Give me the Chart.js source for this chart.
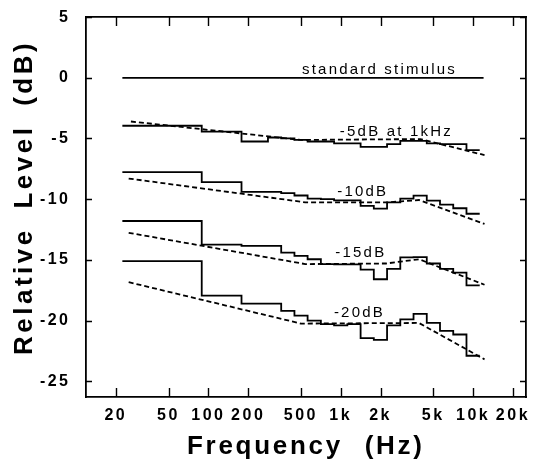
<!DOCTYPE html>
<html>
<head>
<meta charset="utf-8">
<script src="https://cdn.jsdelivr.net/npm/chart.js@4.4.1/dist/chart.umd.min.js"></script>
<style>
	html, body { margin: 0; padding: 0; background: #fff; }
	canvas { display: block; }
</style>
</head>
<body>
<canvas id="levelChart" width="534" height="459"></canvas>
<script>
	// Band edges (Hz) of the measured spectra
	const bandEdges  = [22.4, 89.1, 178, 355, 447, 562, 708, 891, 1122, 1413, 1778, 2239, 2818, 3548, 4467, 5623, 7079, 8913, 11220];
	const bandEdges5 = [22.4, 89.1, 178, 282, 355, 447, 562, 708, 891, 1122, 1413, 1778, 2239, 2818, 3548, 4467, 5623, 7079, 8913, 11220];

	// Band levels (dB), one value per band
	const level5  = [-3.95, -4.43, -5.25, -4.92, -5.0, -5.12, -5.25, -5.25, -5.4, -5.4, -5.69, -5.69, -5.47, -5.19, -5.19, -5.41, -5.47, -5.47, -5.96];
	const level10 = [-7.77, -8.6, -9.4, -9.5, -9.7, -9.95, -10.0, -10.1, -10.1, -10.55, -10.78, -10.26, -9.95, -9.71, -10.12, -10.45, -10.75, -11.2];
	const level15 = [-11.8, -13.74, -13.85, -14.4, -14.67, -14.95, -15.35, -15.38, -15.38, -15.8, -16.6, -15.74, -14.8, -14.78, -15.3, -15.74, -16.05, -17.1];
	const level20 = [-15.1, -17.95, -18.6, -19.2, -19.6, -20.0, -20.3, -20.4, -20.3, -21.45, -21.6, -20.4, -19.9, -19.45, -20.2, -20.85, -21.15, -22.9];

	// Standard stimulus
	const standardFreq  = [22.4, 12000];
	const standardLevel = [0, 0];

	// Dashed target curves
	const dashFreq5  = [26, 500, 4000, 12200];
	const dashLevel5 = [-3.6, -5.12, -5.05, -6.37];
	const dashFreq10  = [25, 540, 2300, 3900, 12200];
	const dashLevel10 = [-8.3, -10.26, -10.26, -10.07, -12.04];
	const dashFreq15  = [25, 540, 2200, 3900, 12200];
	const dashLevel15 = [-12.77, -15.35, -15.3, -14.95, -17.05];
	const dashFreq20  = [25, 500, 3900, 12200];
	const dashLevel20 = [-16.84, -20.25, -20.2, -23.2];

	// Axis ticks
	const freqTicks  = [20, 50, 100, 200, 500, 1000, 2000, 5000, 10000, 20000];
	const levelTicks = [-25, -20, -15, -10, -5, 0, 5];

	// Curve labels: text, frequency and level of the text baseline start
	const curveNotes = [
		{ text: 'standard stimulus', f: 510, db: 0.3 },
		{ text: '-5dB at 1kHz', f: 985, db: -4.78 },
		{ text: '-10dB', f: 942, db: -9.71 },
		{ text: '-15dB', f: 910, db: -14.8 },
		{ text: '-20dB', f: 888, db: -19.74 }
	];

	// step line: each level held from its lower edge to its upper edge
	function stepPoints( edges, levels ){
		return edges.map(function( e, i ){
			return { x: e, y: levels[ Math.min(i, levels.length - 1) ] };
		});
	}

	function linePoints( freqs, levels ){
		return freqs.map(function( f, i ){
			return { x: f, y: levels[i] };
		});
	}

	const solidStyle = { borderColor: '#000', borderWidth: 1.8, pointRadius: 0, fill: false, stepped: 'before' };
	const dashStyle  = { borderColor: '#000', borderWidth: 1.8, pointRadius: 0, fill: false, borderDash: [5, 3] };

	const datasets = [
		Object.assign({ label: 'standard stimulus', data: linePoints(standardFreq, standardLevel) }, solidStyle, { stepped: false }),
		Object.assign({ label: '-5dB', data: stepPoints(bandEdges5, level5) }, solidStyle),
		Object.assign({ label: '-10dB', data: stepPoints(bandEdges, level10) }, solidStyle),
		Object.assign({ label: '-15dB', data: stepPoints(bandEdges, level15) }, solidStyle),
		Object.assign({ label: '-20dB', data: stepPoints(bandEdges, level20) }, solidStyle),
		Object.assign({ label: '-5dB target', data: linePoints(dashFreq5, dashLevel5) }, dashStyle),
		Object.assign({ label: '-10dB target', data: linePoints(dashFreq10, dashLevel10) }, dashStyle),
		Object.assign({ label: '-15dB target', data: linePoints(dashFreq15, dashLevel15) }, dashStyle),
		Object.assign({ label: '-20dB target', data: linePoints(dashFreq20, dashLevel20) }, dashStyle)
	];

	const tickFont = { family: '"Liberation Sans", Arial, sans-serif', size: 16, weight: 'bold' };

	function freqLabel( value ){
		return value >= 1000 ? (value / 1000) + 'k' : String(value);
	}

	// Inward tick marks, curve labels and axis titles
	const figText = {
		id: 'figText',
		beforeDraw: function( chart ){
			chart.ctx.letterSpacing = '2.5px';
		},
		afterDraw: function( chart ){
			const ctx = chart.ctx;
			const xs = chart.scales.x, ys = chart.scales.y;
			const area = chart.chartArea;

			ctx.save();
			ctx.strokeStyle = '#000';
			ctx.lineWidth = 1.4;
			ctx.beginPath();
			freqTicks.forEach(function( v ){
				const px = Math.round(xs.getPixelForValue(v)) + 0.5;
				ctx.moveTo(px, area.bottom);
				ctx.lineTo(px, area.bottom - 9);
				ctx.moveTo(px, area.top);
				ctx.lineTo(px, area.top + 9);
			});
			levelTicks.forEach(function( v ){
				const py = Math.round(ys.getPixelForValue(v)) + 0.5;
				ctx.moveTo(area.left, py);
				ctx.lineTo(area.left + 6, py);
				ctx.moveTo(area.right, py);
				ctx.lineTo(area.right - 6, py);
			});
			ctx.stroke();

			ctx.fillStyle = '#000';
			ctx.textAlign = 'left';
			ctx.textBaseline = 'alphabetic';
			ctx.font = '15px "Liberation Sans", Arial, sans-serif';
			ctx.letterSpacing = '2.2px';
			curveNotes.forEach(function( n ){
				ctx.fillText(n.text, xs.getPixelForValue(n.f), ys.getPixelForValue(n.db));
			});

			ctx.font = 'bold 26px "Liberation Sans", Arial, sans-serif';
			ctx.letterSpacing = '2.7px';
			ctx.wordSpacing = '12px';
			ctx.fillText('Frequency (Hz)', 187, 454);

			ctx.translate(31.5, 355);
			ctx.rotate(-Math.PI / 2);
			ctx.letterSpacing = '3.5px';
			ctx.wordSpacing = '8px';
			ctx.fillText('Relative Level (dB)', 0, 0);
			ctx.restore();

			ctx.letterSpacing = '0px';
		}
	};

	function setFreqTicks( scale ){
		scale.ticks = freqTicks.map(function( v ){ return { value: v }; });
	}
	function setLevelTicks( scale ){
		scale.ticks = levelTicks.map(function( v ){ return { value: v }; });
	}

	// fixed axis boxes so the plot frame sits where the figure has it
	function fixBox( size ){
		return function( scale ){
			if( scale.isHorizontal() ){
				scale.height = size;
			} else {
				scale.width = size;
			}
			scale.paddingLeft = 0;
			scale.paddingRight = 0;
		};
	}

	const frame = { color: '#000', width: 1.8 };

	new Chart(document.getElementById('levelChart'), {
		type: 'line',
		data: { datasets: datasets },
		plugins: [figText],
		options: {
			responsive: false,
			animation: false,
			layout: { padding: 0 },
			plugins: {
				legend: { display: false },
				tooltip: { enabled: false }
			},
			scales: {
				x: {
					type: 'logarithmic',
					position: 'bottom',
					min: 11.9,
					max: 25100,
					afterBuildTicks: setFreqTicks,
					afterFit: fixBox(62),
					ticks: {
						callback: freqLabel,
						font: tickFont,
						color: '#000',
						padding: 1.4,
						autoSkip: false,
						maxRotation: 0
					},
					grid: { display: false },
					border: frame
				},
				x2: {
					type: 'logarithmic',
					position: 'top',
					min: 11.9,
					max: 25100,
					afterBuildTicks: setFreqTicks,
					afterFit: fixBox(16),
					ticks: { display: false },
					grid: { display: false },
					border: frame
				},
				y: {
					type: 'linear',
					position: 'left',
					min: -26.3,
					max: 5,
					afterBuildTicks: setLevelTicks,
					afterFit: fixBox(86),
					ticks: {
						font: tickFont,
						color: '#000',
						padding: 7.5
					},
					grid: { display: false },
					border: frame
				},
				y2: {
					type: 'linear',
					position: 'right',
					min: -26.3,
					max: 5,
					afterBuildTicks: setLevelTicks,
					afterFit: fixBox(8),
					ticks: { display: false },
					grid: { display: false },
					border: frame
				}
			}
		}
	});
</script>
</body>
</html>
